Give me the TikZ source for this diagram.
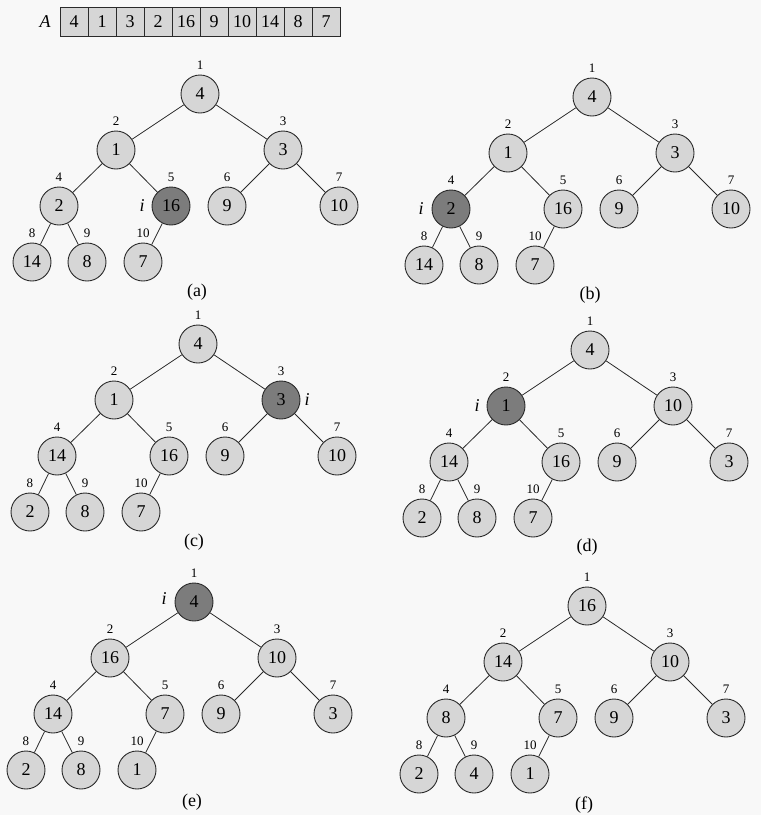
\documentclass[tikz,border=0pt]{standalone}
\usepackage{fontspec}
\setmainfont{Liberation Serif}
\usetikzlibrary{calc}
\definecolor{cellfill}{HTML}{D6D6D6}
\definecolor{hotfill}{HTML}{7C7C7C}
\definecolor{inkline}{HTML}{2A2A2A}
\definecolor{paper}{HTML}{F8F8F8}
\tikzset{
  cool/.style={circle, draw=inkline, line width=0.9pt, fill=cellfill,
    minimum size=38pt, inner sep=0pt, font=\fontsize{18}{18}\selectfont},
  hot/.style={cool, fill=hotfill},
  idx/.style={inner sep=0pt, font=\fontsize{13}{13}\selectfont},
  ivar/.style={inner sep=0pt, font=\fontsize{18}{18}\selectfont\itshape},
  captext/.style={inner sep=0pt, font=\fontsize{18}{18}\selectfont},
  edge/.style={draw=inkline, line width=0.8pt},
  cell/.style={draw=inkline, line width=0.9pt, fill=cellfill,
    minimum width=28pt, minimum height=29pt, inner sep=0pt,
    font=\fontsize{18}{18}\selectfont},
}
% heap drawn from a root position:
% #1 prefix, #2 root x, #3 root y, #4 values, #5 marked index
\newcommand{\heaptree}[5]{%
  \foreach \v [count=\k] in {#4} {
    \pgfmathsetmacro\dx{{0,-84,83,-141,-29,27,139,-168,-113,-57}[\k-1]}
    \pgfmathsetmacro\lv{{0,1,1,2,2,2,2,3,3,3}[\k-1]}
    \ifnum\k=#5 \def\sty{hot}\else\def\sty{cool}\fi
    \node[\sty] (#1\k) at (#2+\dx, #3+\lv*56) {\v};
    \node[idx] (#1n\k) at (#2+\dx, #3+\lv*56-29) {\k};
  }
  \foreach \c in {2,...,10} {
    \pgfmathtruncatemacro\p{\c/2}
    \draw[edge] (#1\p) -- (#1\c);
  }
}
\begin{document}
\begin{tikzpicture}[x=1pt,y=-1pt]
\useasboundingbox[fill=paper] (0,0) rectangle (761,815);

% the array A
\node[ivar] (alabel) at (45,22) {A};
\foreach \v [count=\k] in {4,1,3,2,16,9,10,14,8,7} {
  \node[cell] (a\k) at (46+\k*28,22) {\v};
}

% (a) i = 5
\heaptree{ta}{200}{94}{4,1,3,2,16,9,10,14,8,7}{5}
\node[ivar] (tai) at ($(ta5)+(-29,0)$) {i};
\node[captext] (tacap) at (197,292) {(a)};

% (b) i = 4
\heaptree{tb}{592}{97}{4,1,3,2,16,9,10,14,8,7}{4}
\node[ivar] (tbi) at ($(tb4)+(-30,0)$) {i};
\node[captext] (tbcap) at (590,295) {(b)};

% (c) i = 3
\heaptree{tc}{198}{344}{4,1,3,14,16,9,10,2,8,7}{3}
\node[ivar] (tci) at ($(tc3)+(26,0)$) {i};
\node[captext] (tccap) at (194,542) {(c)};

% (d) i = 2
\heaptree{td}{590}{350}{4,1,10,14,16,9,3,2,8,7}{2}
\node[ivar] (tdi) at ($(td2)+(-29,0)$) {i};
\node[captext] (tdcap) at (587,547) {(d)};

% (e) i = 1
\heaptree{te}{194}{602}{4,16,10,14,7,9,3,2,8,1}{1}
\node[ivar] (tei) at ($(te1)+(-30,-3)$) {i};
\node[captext] (tecap) at (192,802) {(e)};

% (f) finished max-heap
\heaptree{tf}{587}{606}{16,14,10,8,7,9,3,2,4,1}{0}
\node[captext] (tfcap) at (584,805) {(f)};
\end{tikzpicture}
\end{document}
